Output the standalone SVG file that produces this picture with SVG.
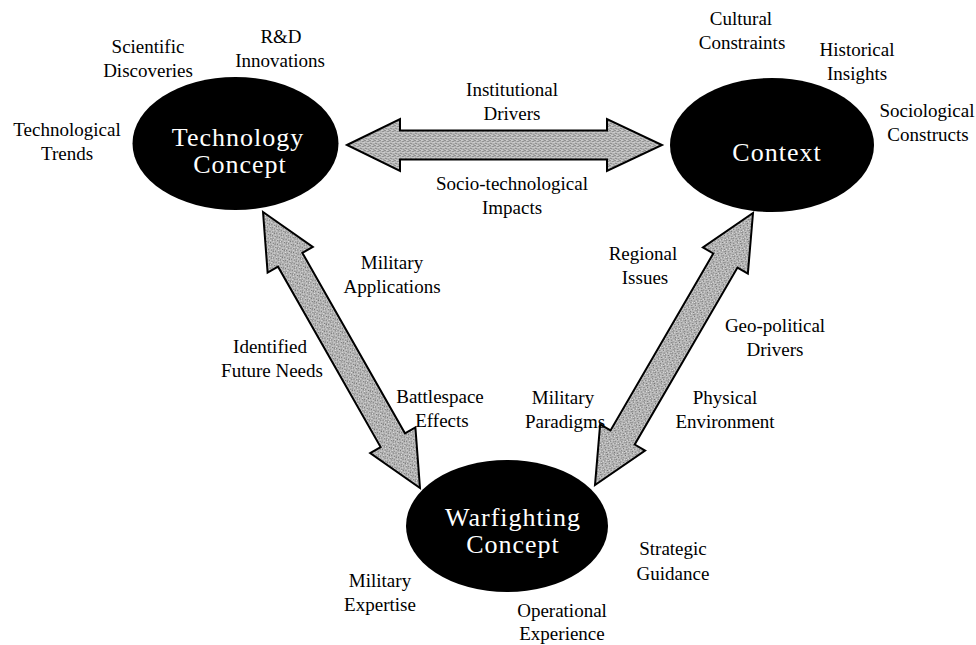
<svg xmlns="http://www.w3.org/2000/svg" width="976" height="645" viewBox="0 0 976 645">
  <style>
    .lbl { font-family: "Liberation Serif", "Times New Roman", serif; font-size: 19px; fill: #000; text-anchor: middle; }
    .node-shape { fill: #000; }
    .node-text { font-family: "Liberation Serif", "Times New Roman", serif; font-size: 26px; fill: #fff; text-anchor: middle; letter-spacing: 1px; }
    .arrow { fill: url(#dither); stroke: #000; stroke-width: 2; stroke-linejoin: miter; }
  </style>
  <defs>
    <pattern id="dither" width="5" height="5" patternUnits="userSpaceOnUse">
      <rect width="5" height="5" fill="#b4b4b4"/>
      <rect x="0" y="0" width="1" height="1" fill="#707070"/>
      <rect x="3" y="1" width="1" height="1" fill="#707070"/>
      <rect x="1" y="3" width="1" height="1" fill="#707070"/>
      <rect x="4" y="4" width="1" height="1" fill="#808080"/>
      <rect x="2" y="0" width="1" height="1" fill="#e2e2e2"/>
      <rect x="4" y="2" width="1" height="1" fill="#e2e2e2"/>
      <rect x="0" y="4" width="1" height="1" fill="#e2e2e2"/>
      <rect x="2" y="2" width="1" height="1" fill="#d0d0d0"/>
    </pattern>
  </defs>
  <rect width="976" height="645" fill="#fff"/>

  <g id="connectors">
    <!-- Technology Concept <-> Context -->
    <path class="arrow" transform="translate(504.5,145)" d="M -157.5 0 L -104.5 -26 L -104.5 -14.5 L 102.5 -14.5 L 102.5 -26 L 157.5 0 L 102.5 26 L 102.5 14.5 L -104.5 14.5 L -104.5 26 Z"/>
    <!-- Technology Concept <-> Warfighting Concept -->
    <path class="arrow" transform="translate(341.5,350) rotate(60.37)" d="M -158.75 0 L -103.75 -26 L -103.75 -14 L 103.75 -14 L 103.75 -26 L 158.75 0 L 103.75 26 L 103.75 14 L -103.75 14 L -103.75 26 Z"/>
    <!-- Warfighting Concept <-> Context -->
    <path class="arrow" transform="translate(674,349) rotate(-59.85)" d="M -157.3 0 L -102.3 -26 L -102.3 -14 L 102.3 -14 L 102.3 -26 L 157.3 0 L 102.3 26 L 102.3 14 L -102.3 14 L -102.3 26 Z"/>
  </g>

  <g id="node-technology">
    <ellipse class="node-shape" cx="235.5" cy="143.5" rx="103" ry="66.5"/>
    <text class="node-text" x="238" y="146">Technology</text>
    <text class="node-text" x="240" y="173">Concept</text>
  </g>

  <g id="node-context">
    <ellipse class="node-shape" cx="772" cy="145" rx="102" ry="67"/>
    <text class="node-text" x="777" y="161">Context</text>
  </g>

  <g id="node-warfighting">
    <ellipse class="node-shape" cx="507" cy="526" rx="101" ry="66"/>
    <text class="node-text" x="513" y="526">Warfighting</text>
    <text class="node-text" x="513" y="553">Concept</text>
  </g>

  <g id="labels">
    <text class="lbl" x="148" y="53">Scientific</text>
    <text class="lbl" x="148" y="77">Discoveries</text>
    <text class="lbl" x="281" y="43">R&amp;D</text>
    <text class="lbl" x="280" y="67">Innovations</text>
    <text class="lbl" x="67" y="136">Technological</text>
    <text class="lbl" x="67" y="160">Trends</text>

    <text class="lbl" x="741" y="25">Cultural</text>
    <text class="lbl" x="742" y="49">Constraints</text>
    <text class="lbl" x="857" y="56">Historical</text>
    <text class="lbl" x="857" y="80">Insights</text>
    <text class="lbl" x="927" y="117">Sociological</text>
    <text class="lbl" x="928" y="141">Constructs</text>

    <text class="lbl" x="512" y="96">Institutional</text>
    <text class="lbl" x="512" y="120">Drivers</text>
    <text class="lbl" x="512" y="190">Socio-technological</text>
    <text class="lbl" x="512" y="214">Impacts</text>

    <text class="lbl" x="392" y="269">Military</text>
    <text class="lbl" x="392" y="293">Applications</text>
    <text class="lbl" x="270" y="353">Identified</text>
    <text class="lbl" x="272" y="377">Future Needs</text>
    <text class="lbl" x="440" y="403">Battlespace</text>
    <text class="lbl" x="442" y="427">Effects</text>

    <text class="lbl" x="643" y="260">Regional</text>
    <text class="lbl" x="645" y="284">Issues</text>
    <text class="lbl" x="775" y="332">Geo-political</text>
    <text class="lbl" x="775" y="356">Drivers</text>
    <text class="lbl" x="563" y="404">Military</text>
    <text class="lbl" x="565" y="428">Paradigms</text>
    <text class="lbl" x="725" y="404">Physical</text>
    <text class="lbl" x="725" y="428">Environment</text>

    <text class="lbl" x="673" y="555">Strategic</text>
    <text class="lbl" x="673" y="580">Guidance</text>
    <text class="lbl" x="380" y="587">Military</text>
    <text class="lbl" x="380" y="611">Expertise</text>
    <text class="lbl" x="562" y="617">Operational</text>
    <text class="lbl" x="562" y="640">Experience</text>
  </g>
</svg>
